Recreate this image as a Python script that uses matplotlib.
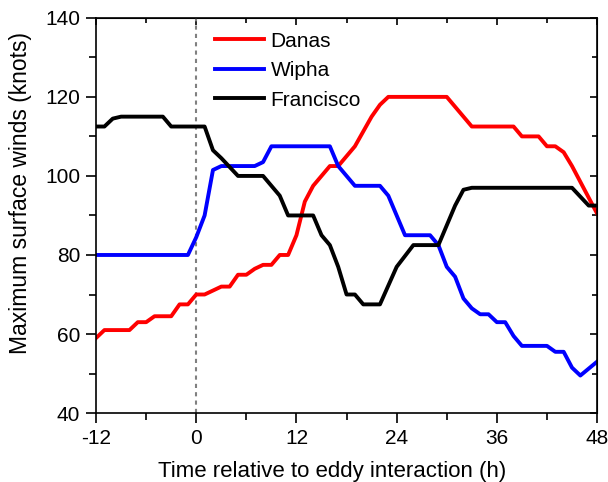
import matplotlib.pyplot as plt
from matplotlib.ticker import MultipleLocator

plt.rcParams['font.family'] = ['Liberation Sans', 'DejaVu Sans']
plt.rcParams['axes.unicode_minus'] = False

# intensity (knots) at hours relative to the eddy interaction
danas_h = [-12, -11, -8, -7, -6, -5, -3, -2, -1, 0, 1, 3, 4, 5, 6, 7, 8, 9, 10, 11,
           12, 13, 14, 15, 16, 17, 19, 21, 22, 23, 30, 33, 38, 39, 41, 42, 43, 44, 45, 48]
danas_v = [59, 61, 61, 63, 63, 64.5, 64.5, 67.5, 67.5, 70, 70, 72, 72, 75, 75, 76.5, 77.5, 77.5, 80, 80,
           85, 93.5, 97.5, 100, 102.5, 102.5, 107.5, 115, 118, 120, 120, 112.5, 112.5, 110, 110, 107.5, 107.5, 106, 102.5, 90.5]

wipha_h = [-12, -1, 0, 1, 2, 3, 7, 8, 9, 16, 17, 19, 22, 23, 25, 28, 29, 30, 31, 32,
           33, 34, 35, 36, 37, 38, 39, 42, 43, 44, 45, 46, 48]
wipha_v = [80, 80, 84.5, 90, 101.5, 102.5, 102.5, 103.5, 107.5, 107.5, 102.5, 97.5, 97.5, 95, 85, 85, 82.5, 77, 74.5, 69,
           66.5, 65, 65, 63, 63, 59.5, 57, 57, 55.5, 55.5, 51.5, 49.5, 53]

francisco_h = [-12, -11, -10, -9, -4, -3, 1, 2, 3, 5, 8, 10, 11, 14, 15, 16, 17, 18, 19, 20,
               22, 24, 26, 29, 31, 32, 33, 45, 47, 48]
francisco_v = [112.5, 112.5, 114.5, 115, 115, 112.5, 112.5, 106.5, 104.5, 100, 100, 95, 90, 90, 85, 82.5, 77, 70, 70, 67.5,
               67.5, 77, 82.5, 82.5, 92.5, 96.5, 97, 97, 92.5, 92.5]

fig = plt.figure(figsize=(6.08, 4.82), dpi=100)
ax = fig.add_axes([0.158, 0.143, 0.824, 0.820])

ax.axvline(0, color='gray', linestyle=(0, (2, 2)), linewidth=1.5, zorder=1)
ax.plot(danas_h, danas_v, color='red', linewidth=2.8, label='Danas')
ax.plot(wipha_h, wipha_v, color='blue', linewidth=2.8, label='Wipha')
ax.plot(francisco_h, francisco_v, color='black', linewidth=2.8, label='Francisco')

ax.set_xlim(-12, 48)
ax.set_ylim(40, 140)
ax.xaxis.set_major_locator(MultipleLocator(12))
ax.xaxis.set_minor_locator(MultipleLocator(6))
ax.yaxis.set_major_locator(MultipleLocator(20))
ax.yaxis.set_minor_locator(MultipleLocator(10))

ax.tick_params(which='both', direction='out', labelsize=15, width=1.2,
               top=False, right=False)
ax.tick_params(which='major', length=7.5, pad=4)
ax.tick_params(which='minor', length=5)

# inward ticks on the top and right spines
top = ax.secondary_xaxis('top')
top.xaxis.set_major_locator(MultipleLocator(12))
top.xaxis.set_minor_locator(MultipleLocator(6))
top.tick_params(which='both', direction='in', labeltop=False, width=1.2)
top.tick_params(which='major', length=5)
top.tick_params(which='minor', length=3.5)
right = ax.secondary_yaxis('right')
right.yaxis.set_major_locator(MultipleLocator(20))
right.yaxis.set_minor_locator(MultipleLocator(10))
right.tick_params(which='both', direction='in', labelright=False, width=1.2)
right.tick_params(which='major', length=5)
right.tick_params(which='minor', length=3.5)

for s in ax.spines.values():
    s.set_linewidth(1.2)

ax.set_xlabel('Time relative to eddy interaction (h)', fontsize=16)
ax.set_ylabel('Maximum surface winds (knots)', fontsize=16.5)
ax.xaxis.set_label_coords(0.471, -0.122)
ax.yaxis.set_label_coords(-0.128, 0.556)

ax.legend(loc='upper left', bbox_to_anchor=(0.205, 1.007), frameon=False,
          fontsize=15, handlelength=2.35, handletextpad=0.3, labelspacing=0.5,
          borderpad=0.3)

fig.savefig('out.png', dpi=100)
